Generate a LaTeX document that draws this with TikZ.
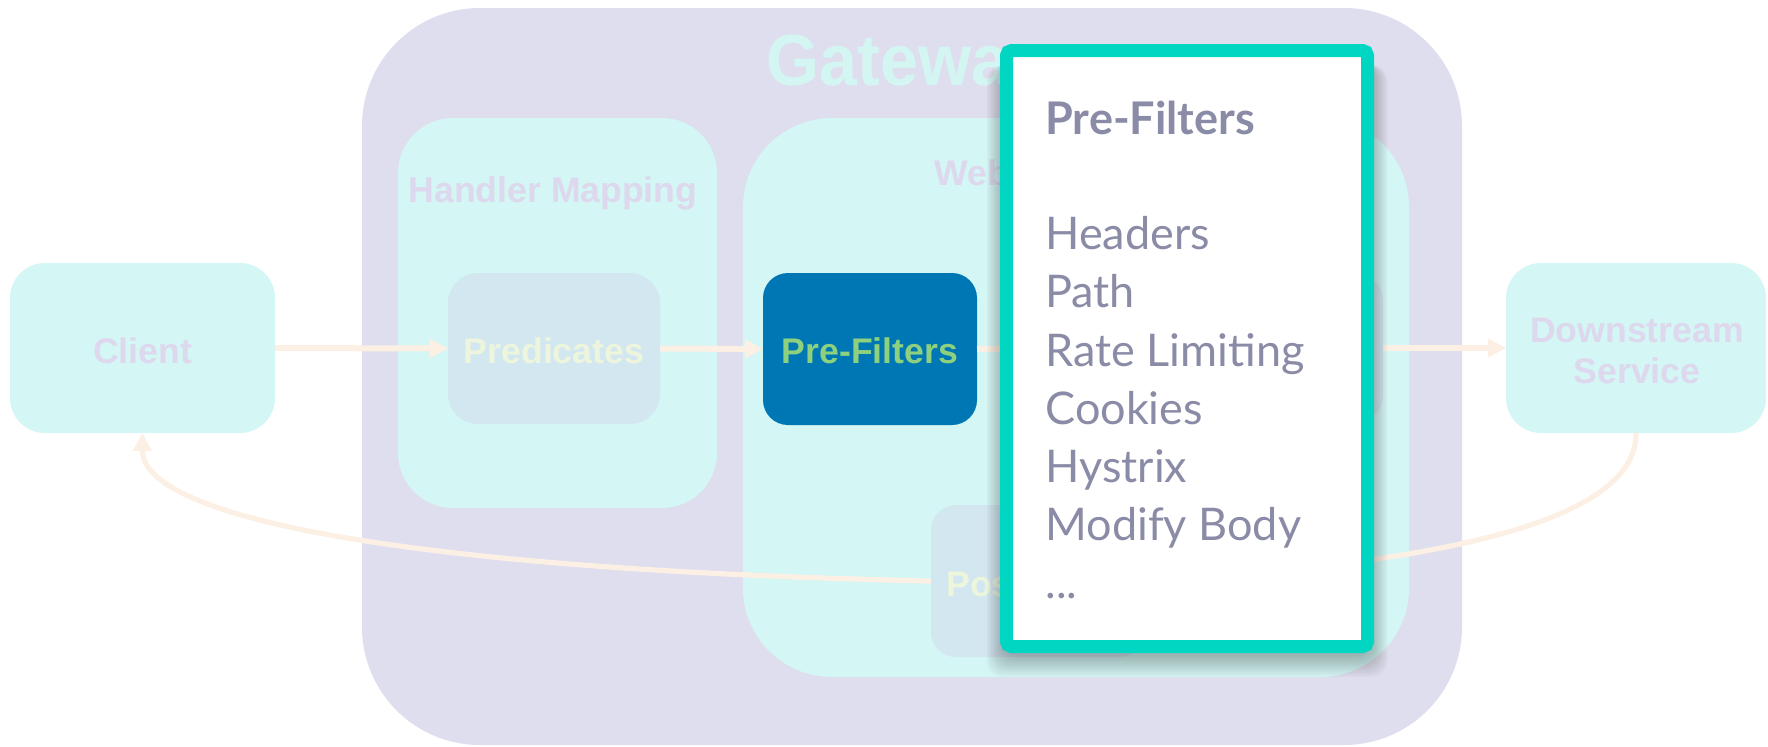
\documentclass[tikz,border=0pt]{standalone}
\usepackage{fontspec}
\usepackage{graphicx}
\newfontfamily\labfont{Liberation Sans}
\newfontfamily\latofont{Lato}
\usetikzlibrary{arrows.meta}
\definecolor{gwbg}{HTML}{DEDEEE}
\definecolor{cyanbox}{HTML}{D4F6F4}
\definecolor{predbox}{HTML}{D3E7F0}
\definecolor{lavtext}{HTML}{DDD8EE}
\definecolor{paletext}{HTML}{EDF5DC}
\definecolor{titletext}{HTML}{D4F6F2}
\definecolor{flow}{HTML}{FCF0E4}
\definecolor{prefbox}{HTML}{0077B5}
\definecolor{preftext}{HTML}{8DD07E}
\definecolor{teal}{HTML}{00D6C2}
\definecolor{poptext}{HTML}{8A8BA6}
\begin{document}
\begin{tikzpicture}[x=0.5pt,y=-0.5pt,
  boxnode/.style={inner sep=0pt, outer sep=0pt},
  lab/.style={inner sep=0pt, anchor=base, font=\labfont\bfseries\fontsize{17.8pt}{20pt}\selectfont},
  poplab/.style={inner sep=0pt, anchor=base west, text=poptext, font=\latofont\fontsize{22.5pt}{26pt}\selectfont},
  flowarrow/.style={draw=flow, line width=3pt, -{Triangle[length=9pt,width=9pt]}},
  flowline/.style={draw=flow, line width=2.6pt, -{Triangle[length=9pt,width=9pt]}}]
\useasboundingbox (0,0) rectangle (1768,746);
% Gateway background
\node[boxnode, fill=gwbg, rounded corners=59pt, minimum width=550pt, minimum height=368.5pt] (gw) at (912,376.5) {};
\node[inner sep=0pt, anchor=base west, text=titletext, font=\labfont\bfseries\fontsize{36.3pt}{40pt}\selectfont] (gwt) at (766,85) {\scalebox{0.94}[1]{Gateway}};
% Handler Mapping
\node[boxnode, fill=cyanbox, rounded corners=27.5pt, minimum width=159.5pt, minimum height=195pt] (hm) at (557.5,313) {};
\node[lab, text=lavtext] (hmt) at (553,202) {Handler Mapping};
% Web Handler
\node[boxnode, fill=cyanbox, rounded corners=44.5pt, minimum width=333pt, minimum height=279.5pt] (wh) at (1076,397.5) {};
\node[lab, anchor=base west, text=lavtext] (wht) at (934,185) {Web Handler};
% inner boxes
\node[boxnode, fill=predbox, rounded corners=15pt, minimum width=106pt, minimum height=75.5pt] (pred) at (554,348.5) {};
\node[lab, text=paletext] (predt) at (554,363) {Predicates};
\node[boxnode, fill=prefbox, rounded corners=12.5pt, minimum width=107pt, minimum height=76pt] (pref) at (870,349) {};
\node[lab, text=preftext] (preft) at (870,363) {Pre-Filters};
\node[boxnode, fill=predbox, rounded corners=12.5pt, minimum width=107pt, minimum height=73pt] (proxy) at (1276,348) {};
\node[boxnode, fill=predbox, rounded corners=12.5pt, minimum width=107pt, minimum height=76pt] (post) at (1038,581) {};
\node[lab, anchor=base west, text=paletext] (postt) at (946,596) {Post-Filters};
% Client and Downstream
\node[boxnode, fill=cyanbox, rounded corners=17.5pt, minimum width=132.5pt, minimum height=85pt] (client) at (142.5,348) {};
\node[lab, text=lavtext] (clientt) at (142.5,363) {Client};
\node[boxnode, fill=cyanbox, rounded corners=17.5pt, minimum width=130pt, minimum height=85pt] (ds) at (1636,348) {};
\node[lab, text=lavtext] (dst1) at (1637,342) {Downstream};
\node[lab, text=lavtext] (dst2) at (1637,383) {Service};
% flow arrows
\draw[flowarrow] (client.east) -- (pred.west);
\draw[flowarrow] (pred.east) -- (pref.west);
\draw[flowarrow] (pref.east) -- (proxy.west);
\draw[flowarrow] (proxy.east) -- (ds.west);
\draw[flowline] (ds.south) .. controls (1637,530) and (1400,565) .. (post.east);
\draw[flowline] (post.west) .. controls (420,570) and (142,520) .. (client.south);
% popup shadow
\foreach \i in {0,...,11}
  \fill[black, opacity=0.022, rounded corners=8pt] ({1003-\i*1.5},{62+\i*0.3}) rectangle ({1371+\i*1.5},{656+\i*1.9});
% popup
\node[boxnode, draw=teal, fill=white, line width=6.5pt, rounded corners=2.5pt, minimum width=180.5pt, minimum height=298pt] (pop) at (1187,348.5) {};
\node[poplab, font=\latofont\bfseries\fontsize{22.5pt}{26pt}\selectfont] (pt0) at (1045,134) {Pre-Filters};
\node[poplab] (pt1) at (1045,249) {Headers};
\node[poplab] (pt2) at (1045,307) {Path};
\node[poplab] (pt3) at (1045,366) {Rate Limiting};
\node[poplab] (pt4) at (1045,424) {Cookies};
\node[poplab] (pt5) at (1045,482) {Hystrix};
\node[poplab] (pt6) at (1045,540) {Modify Body};
\node[poplab] (pt7) at (1045,598) {...};
\end{tikzpicture}
\end{document}
